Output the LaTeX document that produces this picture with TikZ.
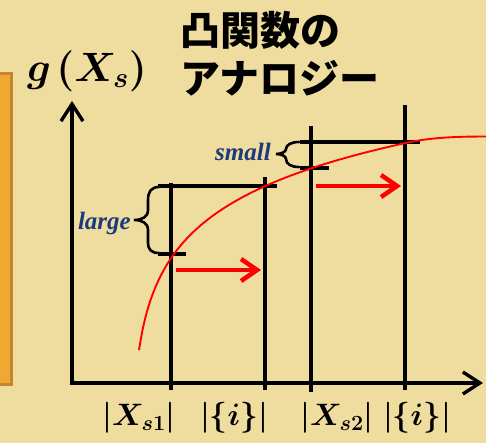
\documentclass[tikz,border=0pt]{standalone}
\usepackage{fix-cm}
\usepackage{fontspec}
\newfontfamily\cjk{Noto Sans CJK JP}
\newfontfamily\lblfont{Liberation Serif}
\usetikzlibrary{arrows.meta}
\definecolor{bg}{HTML}{EFDD9F}
\definecolor{orng}{HTML}{F0A832}
\definecolor{orngd}{HTML}{C4862C}
\definecolor{lblue}{HTML}{1C3A7C}
\definecolor{myred}{HTML}{FF0000}
\begin{document}
\begin{tikzpicture}[x=1pt,y=-1pt,
  ln/.style={line width=3.4pt},
  axis/.style={line width=3.4pt,-{Straight Barb[length=17pt,width=22pt,line width=3.4pt]}},
  rarr/.style={myred,line width=4.5pt,-{Straight Barb[length=16pt,width=22pt,line width=4.5pt]}},
  brc/.style={line width=2.6pt,line cap=round},
  lbl/.style={text=lblue,font=\lblfont\bfseries\itshape\fontsize{25}{29}\selectfont,inner sep=0pt},
  math/.style={inner sep=0pt,font=\fontsize{31}{36}\selectfont\boldmath},
  ttl/.style={anchor=west,inner sep=0pt,font=\cjk\bfseries\fontsize{40}{48}\selectfont}]
\useasboundingbox (0,0) rectangle (486,443);
\clip (0,0) rectangle (486,443);
\fill[bg] (0,0) rectangle (486,443);
% orange side box
\draw[orngd,fill=orng,line width=3pt] (-10,74) rectangle (11,384);
% title
\node[ttl] (t1) at (180,30) {凸関数の};
\node[ttl] (t2) at (180,78) {アナロジー};
% y label
\node[inner sep=0pt,font=\fontsize{41}{48}\selectfont\boldmath] (gx) at (87,71) {$g\mkern2mu(X_{s})$};
% axes
\coordinate (ystart) at (72,385);
\coordinate (xstart) at (70,383);
\coordinate (ytip) at (72,101);
\coordinate (xtip) at (483,383);
\draw[axis] (xstart) -- (xtip);
\draw[axis] (ystart) -- (ytip);
% vertical lines
\coordinate (a1) at (171,183); \coordinate (b1) at (171,390);
\coordinate (a2) at (265,177); \coordinate (b2) at (265,390);
\coordinate (a3) at (311,126); \coordinate (b3) at (311,392);
\coordinate (a4) at (405,105); \coordinate (b4) at (405,390);
\draw[ln] (a1) -- (b1);
\draw[ln] (a2) -- (b2);
\draw[ln] (a3) -- (b3);
\draw[ln] (a4) -- (b4);
% horizontal lines
\coordinate (lt1) at (158,186); \coordinate (lt2) at (277,186);
\coordinate (lb1) at (158,254); \coordinate (lb2) at (186,254);
\coordinate (st1) at (300,142); \coordinate (st2) at (420,142);
\coordinate (sb1) at (300,168); \coordinate (sb2) at (329,168);
\draw[ln] (lt1) -- (lt2);
\draw[ln] (lb1) -- (lb2);
\draw[ln] (st1) -- (st2);
\draw[ln] (sb1) -- (sb2);
% braces
\draw[brc] (159,187) .. controls (151,187) and (148,192) .. (148,200) -- (148,210)
  .. controls (148,217) and (142,220) .. (134,220)
  .. controls (142,220) and (148,223) .. (148,230) -- (148,243)
  .. controls (148,249) and (151,253) .. (159,253);
\draw[brc] (299,142) .. controls (291,142) and (286,145) .. (286,149)
  .. controls (286,152) and (281,154) .. (276,154)
  .. controls (281,154) and (286,156) .. (286,159)
  .. controls (286,164) and (291,167) .. (299,167);
\node[lbl,anchor=east] (large) at (131,223) {large};
\node[lbl,anchor=east] (small) at (271,152) {small};
% red curve
\draw[myred,line width=1.9pt] plot[domain=139:405,samples=90,smooth] (\x,{350-60.5*ln((\x-130)/9)})
  .. controls (432,137) and (460,136.5) .. (490,136.5);
% red arrows
\coordinate (r1s) at (176,270); \coordinate (r1e) at (261,270);
\coordinate (r2s) at (316,186); \coordinate (r2e) at (401,186);
\draw[rarr] (r1s) -- (r1e);
\draw[rarr] (r2s) -- (r2e);
% bottom labels
\node[math] (l1) at (139,418) {$|X_{s1}|$};
\node[math] (l2) at (234,418) {$|\{i\}|$};
\node[math] (l3) at (337,418) {$|X_{s2}|$};
\node[math] (l4) at (417,418) {$|\{i\}|$};
\end{tikzpicture}
\end{document}
